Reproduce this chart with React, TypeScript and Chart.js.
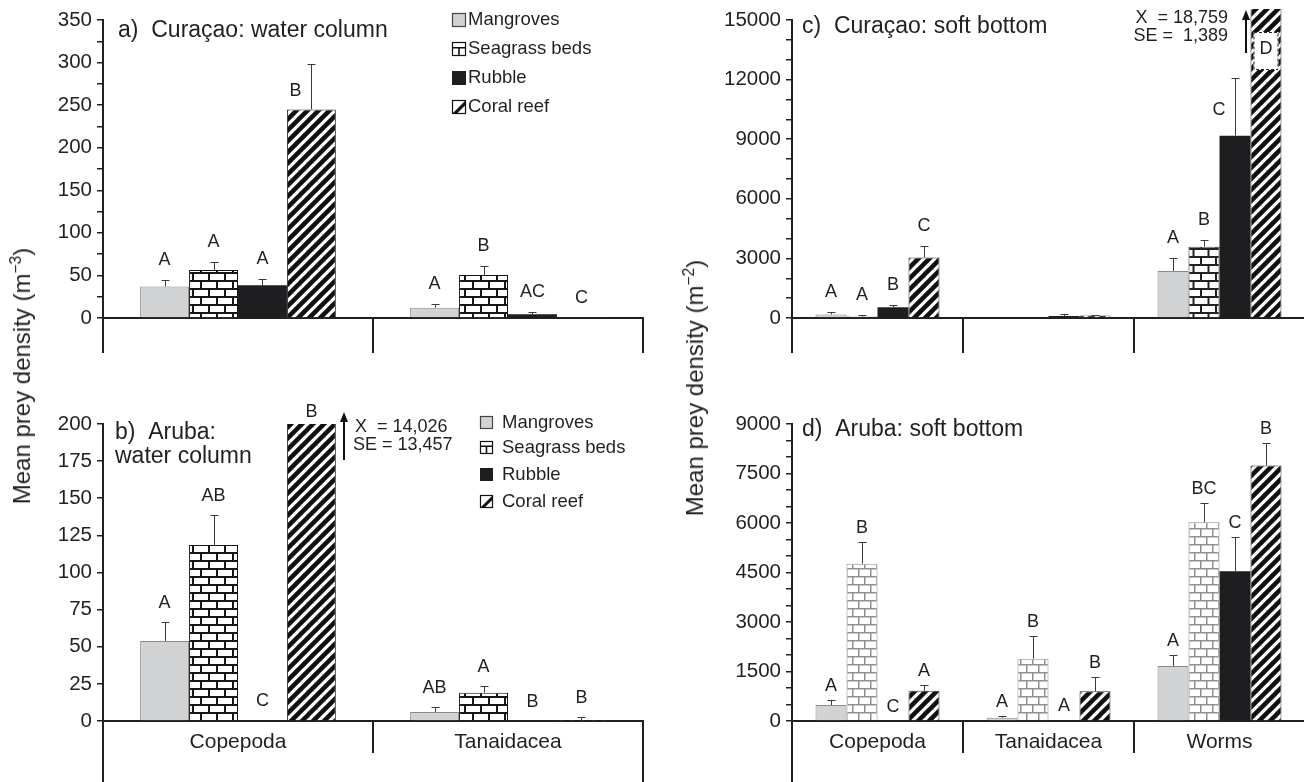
import React, { useEffect, useRef } from 'react';
import { Chart, registerables } from 'chart.js';

Chart.register(...registerables);

// ---------------- data ----------------
const habitats = ['Mangroves', 'Seagrass beds', 'Rubble', 'Coral reef'];
const taxaWater = ['Copepoda', 'Tanaidacea'];
const taxaBottom = ['Copepoda', 'Tanaidacea', 'Worms'];

// a) Curaçao: water column (m-3)
const aMangroves = [37, 12];
const aSeagrass = [56.4, 50.5];
const aRubble = [38.4, 4.3];
const aCoral = [245, 0.5];
const aSeMangroves = [7.8, 3.9];
const aSeSeagrass = [9.6, 10.5];
const aSeRubble = [7, 3.1];
const aSeCoral = [53, 0];
const aLetMangroves = ['A', 'A'];
const aLetSeagrass = ['A', 'B'];
const aLetRubble = ['A', 'AC'];
const aLetCoral = ['B', 'C'];
const aTicksMajor = [0, 50, 100, 150, 200, 250, 300, 350];
const aTicksMinor = [25, 75, 125, 175, 225, 275, 325];

// b) Aruba: water column (m-3)
const bMangroves = [53.9, 6.1];
const bSeagrass = [118.5, 19.1];
const bRubble = [0.6, 0];
const bCoral = [14026, 0.3];
const bSeMangroves = [12.5, 3.6];
const bSeSeagrass = [20.2, 4.5];
const bSeRubble = [0, 0];
const bSeCoral = [13457, 2.6];
const bLetMangroves = ['A', 'AB'];
const bLetSeagrass = ['AB', 'A'];
const bLetRubble = ['C', 'B'];
const bLetCoral = ['B', 'B'];
const bTicksMajor = [0, 25, 50, 75, 100, 125, 150, 175, 200];
const bTicksMinor: number[] = [];

// c) Curaçao: soft bottom (m-2)
const cMangroves = [180, 0, 2370];
const cSeagrass = [80, 30, 3590];
const cRubble = [540, 100, 9180];
const cCoral = [3050, 130, 18759];
const cSeMangroves = [110, 0, 630];
const cSeSeagrass = [50, 0, 330];
const cSeRubble = [130, 80, 2890];
const cSeCoral = [570, 40, 1389];
const cLetMangroves = ['A', '', 'A'];
const cLetSeagrass = ['A', '', 'B'];
const cLetRubble = ['B', '', 'C'];
const cLetCoral = ['C', '', 'D'];
const cTicksMajor = [0, 3000, 6000, 9000, 12000, 15000];
const cTicksMinor = [1000, 2000, 4000, 5000, 7000, 8000, 10000, 11000, 13000, 14000];

// d) Aruba: soft bottom (m-2)
const dMangroves = [482, 100, 1667];
const dSeagrass = [4768, 1888, 6024];
const dRubble = [0, 30, 4539];
const dCoral = [913, 903, 7741];
const dSeMangroves = [151, 60, 321];
const dSeSeagrass = [663, 682, 582];
const dSeRubble = [0, 0, 1043];
const dSeCoral = [192, 432, 672];
const dLetMangroves = ['A', 'A', 'A'];
const dLetSeagrass = ['B', 'B', 'BC'];
const dLetRubble = ['C', 'A', 'C'];
const dLetCoral = ['A', 'B', 'B'];
const dTicksMajor = [0, 1500, 3000, 4500, 6000, 7500, 9000];
const dTicksMinor = [500, 1000, 2000, 2500, 3500, 4000, 5000, 5500, 6500, 7000, 8000, 8500];

// ---------------- styles ----------------
const W = 1320;
const H = 800;
const INK = '#231f20';
const FONT = "'Liberation Sans', Arial, Helvetica, sans-serif";

type Panel = any;

const panels: Panel[] = [
  {
    cats: taxaWater, showCats: false,
    series: [aMangroves, aSeagrass, aRubble, aCoral],
    se: [aSeMangroves, aSeSeagrass, aSeRubble, aSeCoral],
    letters: [aLetMangroves, aLetSeagrass, aLetRubble, aLetCoral],
    major: aTicksMajor, minor: aTicksMinor,
    yMin: -40, yMax: 350,
    box: { left: 103, top: 20, right: 643, bottom: 352 },
    divLen: 34, catPadding: 0,
    brick: { w: 16, h: 8, line: 2, color: '#161616', border: '#111' },
    titles: [{ text: 'a)  Curaçao: water column', x: 118, y: 31 }],
    legend: { x: 452, ys: [19, 48, 77, 106], size: 13, gap: 3, font: 18.5 },
    letterGap: 15,
    special: { '3-0': { dx: -16, dy: -13 } },
    annot: null, extraRight: false, coralOverflow: 0,
  },
  {
    cats: taxaWater, showCats: true,
    series: [bMangroves, bSeagrass, bRubble, bCoral],
    se: [bSeMangroves, bSeSeagrass, bSeRubble, bSeCoral],
    letters: [bLetMangroves, bLetSeagrass, bLetRubble, bLetCoral],
    major: bTicksMajor, minor: bTicksMinor,
    yMin: -41.08, yMax: 200,
    box: { left: 103, top: 424, right: 643, bottom: 782 },
    divLen: 31, catPadding: -22,
    brick: { w: 16, h: 8, line: 2, color: '#161616', border: '#111' },
    titles: [{ text: 'b)  Aruba:', x: 115, y: 433 }, { text: 'water column', x: 115, y: 457 }],
    legend: { x: 480, ys: [422, 447, 474, 501], size: 12, gap: 10, font: 18.5 },
    letterGap: 14,
    special: {},
    annot: { lines: ['X  = 14,026', 'SE = 13,457'], side: 'right' },
    extraRight: true, coralOverflow: 0,
  },
  {
    cats: taxaBottom, showCats: false,
    series: [cMangroves, cSeagrass, cRubble, cCoral],
    se: [cSeMangroves, cSeSeagrass, cSeRubble, cSeCoral],
    letters: [cLetMangroves, cLetSeagrass, cLetRubble, cLetCoral],
    major: cTicksMajor, minor: cTicksMinor,
    yMin: -1711, yMax: 15000,
    box: { left: 792, top: 20, right: 1305, bottom: 352 },
    divLen: 34, catPadding: 0,
    brick: { w: 15, h: 8, line: 2, color: '#222', border: '#222' },
    titles: [{ text: 'c)  Curaçao: soft bottom', x: 802, y: 27 }],
    legend: null,
    letterGap: 15,
    special: { '2-2': { dx: -16, dy: -21 }, '3-2': { box: true } },
    annot: { lines: ['X  = 18,759', 'SE =  1,389'], side: 'left' },
    extraRight: false, coralOverflow: 11,
  },
  {
    cats: taxaBottom, showCats: true,
    series: [dMangroves, dSeagrass, dRubble, dCoral],
    se: [dSeMangroves, dSeSeagrass, dSeRubble, dSeCoral],
    letters: [dLetMangroves, dLetSeagrass, dLetRubble, dLetCoral],
    major: dTicksMajor, minor: dTicksMinor,
    yMin: -1848.5, yMax: 9000,
    box: { left: 792, top: 424, right: 1305, bottom: 782 },
    divLen: 31, catPadding: -22,
    brick: { w: 12, h: 8, line: 1.5, color: '#8f8f8f', border: '#8f8f8f' },
    titles: [{ text: 'd)  Aruba: soft bottom', x: 802, y: 430 }],
    legend: null,
    letterGap: 9,
    special: {},
    annot: null, extraRight: false, coralOverflow: 0,
  },
];

// ---------------- patterns ----------------
function brickPattern(ctx: CanvasRenderingContext2D, b: any) {
  const c = document.createElement('canvas');
  c.width = b.w;
  c.height = b.h * 2;
  const g = c.getContext('2d') as CanvasRenderingContext2D;
  g.fillStyle = '#ffffff';
  g.fillRect(0, 0, c.width, c.height);
  g.fillStyle = b.color;
  g.fillRect(0, 0, b.w, b.line);
  g.fillRect(0, b.h, b.w, b.line);
  g.fillRect(0, 0, b.line, b.h);
  g.fillRect(b.w / 2, b.h, b.line, b.h);
  return ctx.createPattern(c, 'repeat') as CanvasPattern;
}

function stripePattern(ctx: CanvasRenderingContext2D, s: number, w: number) {
  const c = document.createElement('canvas');
  c.width = s;
  c.height = s;
  const g = c.getContext('2d') as CanvasRenderingContext2D;
  g.fillStyle = '#ffffff';
  g.fillRect(0, 0, s, s);
  g.strokeStyle = '#111111';
  g.lineWidth = w;
  g.beginPath();
  for (let k = -1; k <= 1; k++) {
    g.moveTo(k * s - 3, s + 3);
    g.lineTo(k * s + s + 3, -3);
  }
  g.stroke();
  return ctx.createPattern(c, 'repeat') as CanvasPattern;
}

function drawMarker(ctx: CanvasRenderingContext2D, i: number, x: number, y: number, s: number) {
  ctx.save();
  ctx.lineWidth = 1.2;
  if (i === 0) {
    ctx.fillStyle = '#d2d3d5';
    ctx.fillRect(x, y, s, s);
    ctx.strokeStyle = '#444';
    ctx.strokeRect(x, y, s, s);
  } else if (i === 1) {
    ctx.fillStyle = '#fff';
    ctx.fillRect(x, y, s, s);
    ctx.strokeStyle = '#111';
    ctx.strokeRect(x, y, s, s);
    ctx.beginPath();
    ctx.moveTo(x, y + s * 0.4);
    ctx.lineTo(x + s, y + s * 0.4);
    ctx.moveTo(x + s / 2, y + s * 0.4);
    ctx.lineTo(x + s / 2, y + s);
    ctx.lineWidth = 1.6;
    ctx.stroke();
  } else if (i === 2) {
    ctx.fillStyle = '#1e1e20';
    ctx.fillRect(x - 0.5, y - 0.5, s + 1, s + 1);
  } else {
    ctx.fillStyle = '#fff';
    ctx.fillRect(x, y, s, s);
    ctx.save();
    ctx.beginPath();
    ctx.rect(x, y, s, s);
    ctx.clip();
    ctx.fillStyle = '#111';
    ctx.beginPath();
    ctx.moveTo(x + s, y);
    ctx.lineTo(x + s, y + s * 0.35);
    ctx.lineTo(x + s * 0.35, y + s);
    ctx.lineTo(x, y + s);
    ctx.closePath();
    ctx.fill();
    ctx.restore();
    ctx.strokeStyle = '#111';
    ctx.strokeRect(x, y, s, s);
  }
  ctx.restore();
}

function overlayPlugin(p: Panel) {
  return {
    id: 'panelOverlay',
    afterDatasetsDraw(chart: any) {
      const ctx: CanvasRenderingContext2D = chart.ctx;
      const ys = chart.scales.y;
      const area = chart.chartArea;
      ctx.save();
      // error bars (upper SE)
      p.series.forEach((vals: number[], di: number) => {
        const meta = chart.getDatasetMeta(di);
        vals.forEach((v: number, j: number) => {
          const s = p.se[di][j];
          if (!s || v > p.yMax) return;
          const el = meta.data[j];
          const { x, y } = el.getProps(['x', 'y'], true);
          const ye = Math.round(ys.getPixelForValue(v + s)) + 0.5;
          const xx = Math.round(x) + 0.5;
          ctx.strokeStyle = '#3a3a3a';
          ctx.lineWidth = 1;
          ctx.beginPath();
          ctx.moveTo(xx, y);
          ctx.lineTo(xx, ye);
          ctx.moveTo(xx - 4, ye);
          ctx.lineTo(xx + 4, ye);
          ctx.stroke();
        });
      });
      // significance letters
      ctx.font = `18px ${FONT}`;
      ctx.fillStyle = INK;
      ctx.textAlign = 'center';
      ctx.textBaseline = 'alphabetic';
      p.letters.forEach((lets: string[], di: number) => {
        const meta = chart.getDatasetMeta(di);
        lets.forEach((t: string, j: number) => {
          if (!t) return;
          const el = meta.data[j];
          const { x, y, width } = el.getProps(['x', 'y', 'width'], true);
          const v = p.series[di][j];
          const sp = p.special[`${di}-${j}`];
          if (sp && sp.box) {
            const bx = x - width / 2 + 3;
            const bw = width - 6;
            const by = area.top + 12;
            const bh = 38;
            ctx.fillStyle = '#fff';
            ctx.fillRect(bx, by, bw, bh);
            ctx.save();
            ctx.setLineDash([3, 2]);
            ctx.strokeStyle = '#222';
            ctx.lineWidth = 1;
            ctx.strokeRect(bx + 0.5, by + 0.5, bw - 1, bh - 1);
            ctx.restore();
            ctx.fillStyle = INK;
            ctx.textBaseline = 'middle';
            ctx.fillText(t, x, by + bh / 2 - 2);
            ctx.textBaseline = 'alphabetic';
          } else if (sp) {
            ctx.fillText(t, x + sp.dx, y + sp.dy);
          } else if (v > p.yMax) {
            ctx.fillText(t, x, area.top - 7);
          } else {
            const ye = ys.getPixelForValue(v + (p.se[di][j] || 0));
            ctx.fillText(t, x, Math.min(ye, y) - p.letterGap);
          }
        });
      });
      ctx.restore();
    },
    afterDraw(chart: any) {
      const ctx: CanvasRenderingContext2D = chart.ctx;
      const area = chart.chartArea;
      const ys = chart.scales.y;
      ctx.save();
      // titles
      ctx.font = `23px ${FONT}`;
      ctx.fillStyle = INK;
      ctx.textAlign = 'left';
      ctx.textBaseline = 'middle';
      p.titles.forEach((t: any) => ctx.fillText(t.text, t.x, t.y));
      // legend
      const L = p.legend;
      if (L) {
        ctx.font = `${L.font}px ${FONT}`;
        habitats.forEach((h, i) => {
          const yc = L.ys[i];
          const top = Math.round(yc - L.size / 2) + 0.5;
          drawMarker(ctx, i, L.x + 0.5, top, L.size);
          ctx.fillStyle = INK;
          ctx.textAlign = 'left';
          ctx.textBaseline = 'middle';
          ctx.fillText(h, L.x + L.size + L.gap, yc + 1);
        });
      }
      // off-scale annotation
      if (p.annot) {
        const meta = chart.getDatasetMeta(3);
        const idx = p.series[3].findIndex((v: number) => v > p.yMax);
        const el = meta.data[idx];
        const { x, width } = el.getProps(['x', 'width'], true);
        ctx.strokeStyle = '#111';
        ctx.fillStyle = '#111';
        ctx.lineWidth = 2;
        let ax: number;
        let tipY: number;
        let botY: number;
        if (p.annot.side === 'right') {
          ax = Math.round(x + width / 2 + 8);
          tipY = area.top - 12;
          botY = area.top + 36;
        } else {
          ax = Math.round(x - width / 2 - 4);
          tipY = area.top - 10;
          botY = area.top + 33;
        }
        ctx.beginPath();
        ctx.moveTo(ax, botY);
        ctx.lineTo(ax, tipY + 8);
        ctx.stroke();
        ctx.beginPath();
        ctx.moveTo(ax, tipY);
        ctx.lineTo(ax - 4, tipY + 10);
        ctx.lineTo(ax + 4, tipY + 10);
        ctx.closePath();
        ctx.fill();
        ctx.font = `18px ${FONT}`;
        ctx.fillStyle = INK;
        ctx.textBaseline = 'middle';
        if (p.annot.side === 'right') {
          ctx.textAlign = 'left';
          ctx.fillText(p.annot.lines[0], ax + 11, area.top + 3);
          ctx.fillText(p.annot.lines[1], ax + 9, area.top + 21);
        } else {
          ctx.textAlign = 'right';
          ctx.fillText(p.annot.lines[0], ax - 18, area.top - 2);
          ctx.fillText(p.annot.lines[1], ax - 18, area.top + 16);
        }
      }
      // right border of the category frame down to the bottom
      if (p.extraRight) {
        const y0 = ys.getPixelForValue(0);
        ctx.strokeStyle = INK;
        ctx.lineWidth = 2;
        ctx.beginPath();
        ctx.moveTo(Math.round(area.right), y0);
        ctx.lineTo(Math.round(area.right), area.bottom);
        ctx.stroke();
      }
      ctx.restore();
    },
  };
}

function buildChart(canvas: HTMLCanvasElement, p: Panel) {
  const ctx = canvas.getContext('2d') as CanvasRenderingContext2D;
  const fills = [
    '#d2d3d5',
    brickPattern(ctx, p.brick),
    '#1e1e20',
    stripePattern(ctx, 11, 4.5),
  ];
  const borders = ['#8a8a8a', p.brick.border, '#1e1e20', '#333'];
  const bws = [1, 1, 0, 1];
  const yAxisWidth = 85;
  return new Chart(canvas, {
    type: 'bar',
    data: {
      labels: p.cats,
      datasets: habitats.map((h, i) => ({
        label: h,
        data: p.series[i],
        backgroundColor: fills[i] as any,
        borderColor: borders[i],
        borderWidth: bws[i],
        categoryPercentage: 0.725,
        barPercentage: 1.0,
        ...(i === 3 && p.coralOverflow ? { clip: { left: 0, top: p.coralOverflow, right: 0, bottom: 0 } } : {}),
      })),
    },
    options: {
      responsive: false,
      animation: false,
      devicePixelRatio: 1,
      events: [],
      layout: {
        padding: {
          left: p.box.left - yAxisWidth,
          top: p.box.top,
          right: W - p.box.right,
          bottom: H - p.box.bottom,
        },
      },
      plugins: { legend: { display: false }, tooltip: { enabled: false } },
      scales: {
        x: {
          type: 'category',
          position: { y: 0 } as any,
          offset: true,
          z: 1,
          grid: {
            offset: true,
            drawOnChartArea: false,
            drawTicks: true,
            tickLength: p.divLen,
            color: INK,
            lineWidth: 2,
          },
          border: { display: true, color: INK, width: 2 },
          ticks: {
            display: p.showCats,
            padding: p.catPadding,
            color: INK,
            autoSkip: false,
            maxRotation: 0,
            font: { family: FONT, size: 21 },
          },
        },
        y: {
          type: 'linear',
          min: p.yMin,
          max: p.yMax,
          afterBuildTicks: (scale: any) => {
            scale.ticks = [...p.major, ...p.minor].sort((a, b) => a - b).map((v) => ({ value: v }));
          },
          afterFit: (scale: any) => {
            scale.width = yAxisWidth;
          },
          ticks: {
            autoSkip: false,
            padding: 5,
            color: INK,
            font: { family: FONT, size: 20.5 },
            callback: (v: any) => (p.major.includes(Number(v)) ? String(v) : ''),
          },
          grid: { drawOnChartArea: false, drawTicks: true, tickLength: 6, color: INK, lineWidth: 1.5 },
          border: { display: true, color: INK, width: 2 },
        },
      },
    } as any,
    plugins: [overlayPlugin(p)],
  });
}

const yTitleStyle = (x: number, y: number): React.CSSProperties => ({
  position: 'absolute',
  left: x,
  top: y,
  transform: 'translate(-50%, -50%) rotate(-90deg)',
  whiteSpace: 'nowrap',
  fontSize: 24,
  color: INK,
  fontFamily: FONT,
  lineHeight: 1,
});

export default function App() {
  const r0 = useRef<HTMLCanvasElement>(null);
  const r1 = useRef<HTMLCanvasElement>(null);
  const r2 = useRef<HTMLCanvasElement>(null);
  const r3 = useRef<HTMLCanvasElement>(null);
  const refs = [r0, r1, r2, r3];

  useEffect(() => {
    const charts = panels.map((p, i) => buildChart(refs[i].current as HTMLCanvasElement, p));
    return () => charts.forEach((c) => c.destroy());
  }, []);

  return (
    <div
      style={{
        position: 'fixed',
        left: 0,
        top: 0,
        width: 1304,
        height: 782,
        overflow: 'hidden',
        background: '#ffffff',
        fontFamily: FONT,
      }}
    >
      {refs.map((r, i) => (
        <canvas
          key={i}
          ref={r}
          width={W}
          height={H}
          style={{ position: 'absolute', left: 0, top: 0, width: W, height: H }}
        />
      ))}
      <div style={yTitleStyle(21, 376)}>
        Mean prey density (m<sup style={{ fontSize: '0.65em' }}>−3</sup>)
      </div>
      <div style={yTitleStyle(694, 388)}>
        Mean prey density (m<sup style={{ fontSize: '0.65em' }}>−2</sup>)
      </div>
    </div>
  );
}
